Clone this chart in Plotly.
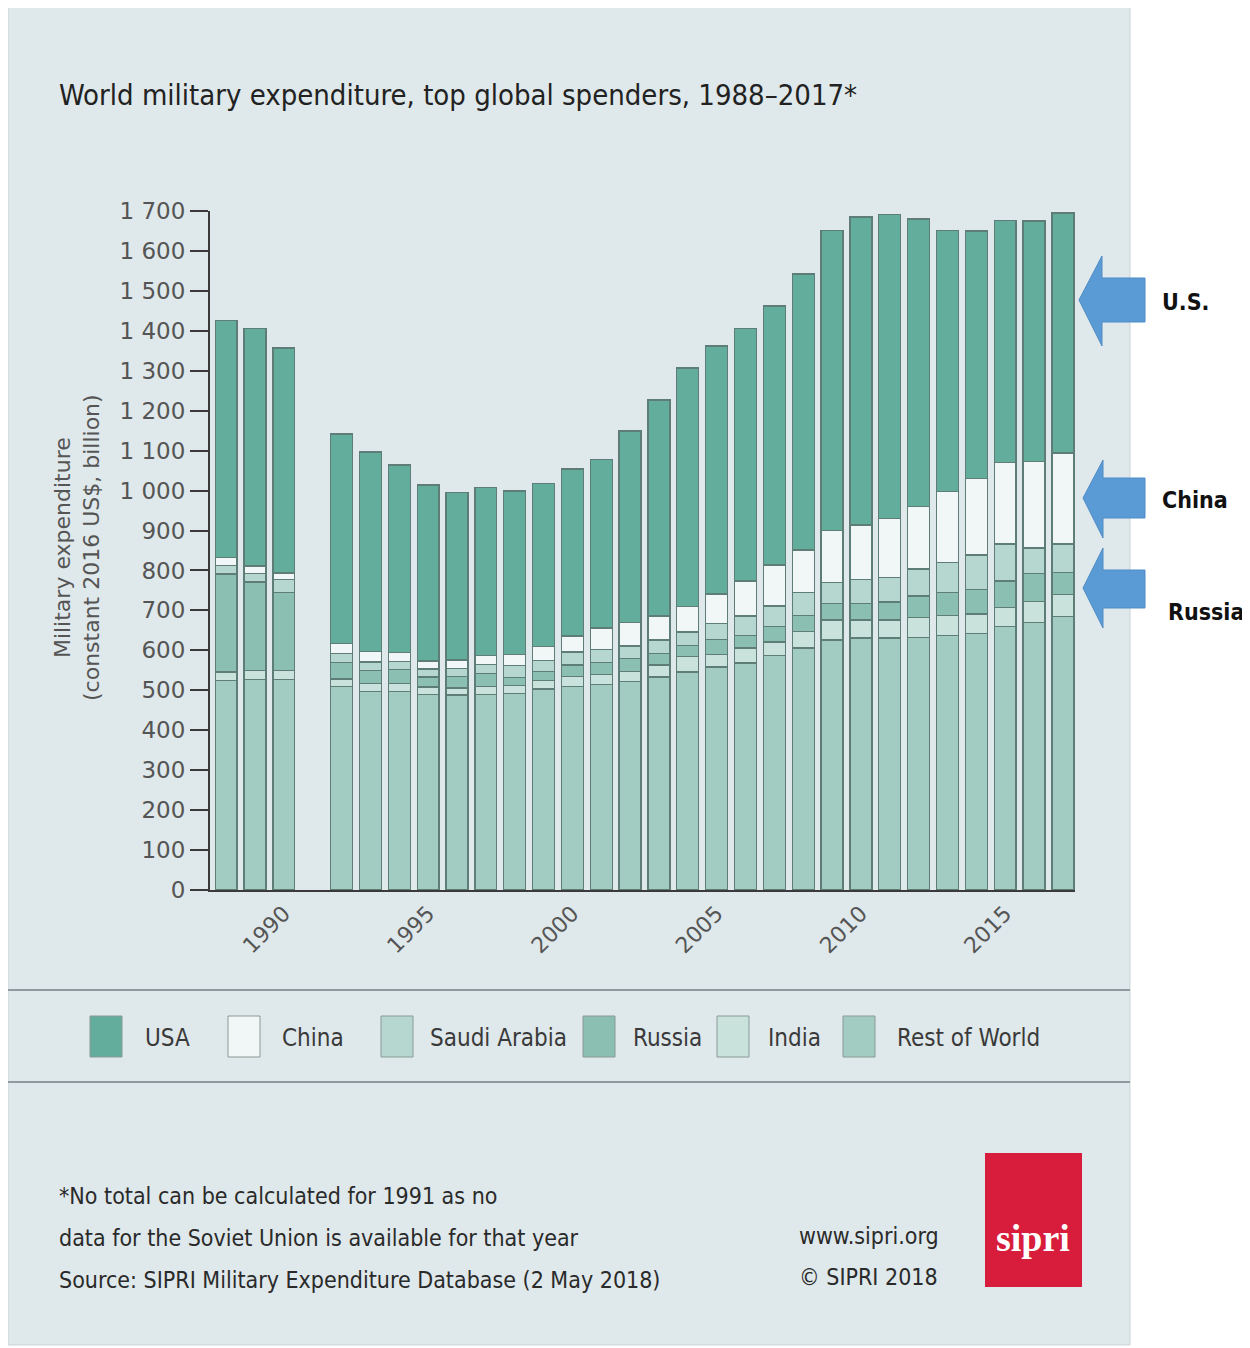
import plotly.graph_objects as go

# ---------------- data (constant 2016 US$, billion) ----------------
years = [1988, 1989, 1990, 1992, 1993, 1994, 1995, 1996, 1997, 1998, 1999,
         2000, 2001, 2002, 2003, 2004, 2005, 2006, 2007, 2008, 2009, 2010,
         2011, 2012, 2013, 2014, 2015, 2016, 2017]
rest_of_world = [524, 527, 527, 510, 497, 497, 490, 488, 490, 492, 503,
                 510, 515, 522, 533, 546, 558, 568, 588, 606, 626, 631,
                 631, 633, 638, 643, 660, 670, 684]
india = [22, 22, 22, 18, 20, 20, 18, 18, 20, 20, 22,
         25, 25, 25, 30, 38, 32, 38, 33, 42, 50, 45,
         45, 50, 50, 48, 47, 53, 56]
russia = [245, 222, 196, 42, 32, 35, 25, 28, 32, 20, 22,
          28, 30, 32, 30, 29, 38, 32, 38, 40, 42, 42,
          45, 53, 57, 62, 67, 70, 55]
saudi_arabia = [22, 22, 32, 22, 22, 20, 20, 20, 23, 30, 28,
                33, 33, 32, 33, 33, 40, 48, 52, 56, 52, 60,
                62, 68, 75, 86, 92, 63, 71]
china = [20, 18, 17, 26, 26, 22, 20, 22, 23, 28, 35,
         40, 53, 58, 60, 63, 73, 88, 103, 107, 130, 136,
         148, 157, 177, 192, 204, 216, 228]
usa = [592, 594, 563, 524, 500, 470, 441, 420, 419, 409, 407,
       418, 421, 480, 541, 598, 621, 631, 648, 691, 752, 771,
       761, 719, 655, 619, 607, 603, 601]

series_names = ["Rest of World", "India", "Russia", "Saudi Arabia", "China", "USA"]
series_values = [rest_of_world, india, russia, saudi_arabia, china, usa]
legend_order = ["USA", "China", "Saudi Arabia", "Russia", "India", "Rest of World"]
x_tick_years = [1990, 1995, 2000, 2005, 2010, 2015]
y_ticks = list(range(0, 1701, 100))

title_text = "World military expenditure, top global spenders, 1988\u20132017*"
y_title = "Military expenditure<br>(constant 2016 US$, billion)"
footer_lines = ["*No total can be calculated for 1991 as no",
                "data for the Soviet Union is available for that year",
                "Source: SIPRI Military Expenditure Database (2 May 2018)"]
credit_lines = ["www.sipri.org", "\u00a9 SIPRI 2018"]
arrow_labels = ["U.S.", "China", "Russia"]

# ---------------- styles ----------------
colors = {
    "USA": "#62ad9b",
    "China": "#f1f7f6",
    "Saudi Arabia": "#b5d7cf",
    "Russia": "#8bbfb2",
    "India": "#c9e2dc",
    "Rest of World": "#a2ccc2",
}
OFF = 8                       # page body margin
PAGE_W, PAGE_H = 1250, 1348
W, H = PAGE_W - OFF, PAGE_H - OFF
PL, PR, PT, PB = 210, 1075, 211, 890   # plot area in page pixels
NARROW = "DejaVu Sans Condensed, Liberation Sans Narrow, sans-serif"
REG = "DejaVu Sans, Verdana, sans-serif"
PANEL = "#dfe8ea"


def px(x):
    return (x - PL) / (PR - PL)


def py(y):
    return (PB - y) / (PB - PT)


fig = go.Figure()
for name, vals in zip(series_names, series_values):
    fig.add_trace(go.Bar(
        x=years, y=vals, name=name,
        marker=dict(color=colors[name], line=dict(color="#5f7d77", width=1.3)),
        width=0.76, showlegend=False,
    ))

shapes = []
annotations = []

# panel background
shapes.append(dict(type="rect", xref="paper", yref="paper", layer="below",
                   x0=px(8), x1=px(1130), y0=py(1345), y1=py(5),
                   fillcolor=PANEL, line=dict(color="#c9d3d6", width=1)))
# divider lines
for yy in (990, 1082):
    shapes.append(dict(type="line", xref="paper", yref="paper",
                       x0=px(8), x1=px(1130), y0=py(yy), y1=py(yy),
                       line=dict(color="#8e9ca0", width=2)))

# title
annotations.append(dict(text=title_text, xref="paper", yref="paper",
                        x=px(57), y=py(95), xanchor="left", yanchor="middle",
                        showarrow=False, font=dict(family=NARROW, size=29, color="#222222")))
# y title
annotations.append(dict(text=y_title, xref="paper", yref="paper",
                        x=px(77), y=py(548), xanchor="center", yanchor="middle",
                        textangle=-90, showarrow=False,
                        font=dict(family=REG, size=22, color="#555555")))

# legend (manual)
legend_sq_x = [90, 228, 381, 583, 717, 843]
legend_tx_x = [143, 280, 428, 631, 766, 895]
for name, sx, tx in zip(legend_order, legend_sq_x, legend_tx_x):
    shapes.append(dict(type="rect", xref="paper", yref="paper",
                       x0=px(sx), x1=px(sx + 32), y0=py(1057), y1=py(1016),
                       fillcolor=colors[name], line=dict(color="#8a9a97", width=1)))
    annotations.append(dict(text=name, xref="paper", yref="paper",
                            x=px(tx), y=py(1038), xanchor="left", yanchor="middle",
                            showarrow=False, font=dict(family=NARROW, size=24, color="#3a3a3a")))

# footer
for i, line in enumerate(footer_lines):
    annotations.append(dict(text=line, xref="paper", yref="paper",
                            x=px(57), y=py(1196 + 42 * i), xanchor="left", yanchor="middle",
                            showarrow=False, font=dict(family=NARROW, size=23, color="#2a2a2a")))
for i, line in enumerate(credit_lines):
    annotations.append(dict(text=line, xref="paper", yref="paper",
                            x=px(797), y=py(1236 + 41 * i), xanchor="left", yanchor="middle",
                            showarrow=False, font=dict(family=NARROW, size=23, color="#2a2a2a")))
# sipri logo
shapes.append(dict(type="rect", xref="paper", yref="paper",
                   x0=px(985), x1=px(1082), y0=py(1287), y1=py(1153),
                   fillcolor="#d81c3c", line=dict(width=0)))
annotations.append(dict(text="<b>sipri</b>", xref="paper", yref="paper",
                        x=px(1033), y=py(1238), xanchor="center", yanchor="middle",
                        showarrow=False,
                        font=dict(family="Liberation Serif, DejaVu Serif, serif", size=38, color="white")))

# arrows pointing at bars
arrow_geo = [  # tip_x, tip_y, head_x, head_top, head_bot, shaft_top, shaft_bot, right
    (1079, 300, 1102, 256, 346, 278, 322, 1145),
    (1083, 498, 1103, 460, 538, 478, 518, 1145),
    (1083, 588, 1103, 548, 628, 570, 608, 1145),
]
label_pos = [(1160, 302), (1160, 500), (1166, 612)]
for (tx, ty, hx, ht, hb, st, sb, rx), lab, (lx, ly) in zip(arrow_geo, arrow_labels, label_pos):
    pts = [(tx, ty), (hx, ht), (hx, st), (rx, st), (rx, sb), (hx, sb), (hx, hb)]
    path = "M " + " L ".join(f"{px(a):.5f},{py(b):.5f}" for a, b in pts) + " Z"
    shapes.append(dict(type="path", xref="paper", yref="paper", path=path,
                       fillcolor="#5b9bd5", line=dict(color="#4f8cc6", width=1)))
    annotations.append(dict(text=f"<b>{lab}</b>", xref="paper", yref="paper",
                            x=px(lx), y=py(ly), xanchor="left", yanchor="middle",
                            showarrow=False,
                            font=dict(family=NARROW, size=23, color="#111111")))

fig.update_layout(
    width=W, height=H,
    margin=dict(l=PL - OFF, r=PAGE_W - PR, t=PT - OFF, b=PAGE_H - PB, pad=0),
    paper_bgcolor="white",
    plot_bgcolor="rgba(0,0,0,0)",
    barmode="stack",
    separators=". ",
    shapes=shapes,
    annotations=annotations,
    showlegend=False,
)
fig.update_xaxes(
    range=[1987.44, 2017.42], tickvals=x_tick_years, tickangle=-45,
    showgrid=False, zeroline=False, showline=True, linecolor="#3a3a3a", linewidth=2,
    ticks="", tickfont=dict(family=REG, size=22, color="#555555"),
)
fig.update_yaxes(
    range=[0, 1700], tickvals=y_ticks, tickformat=",d",
    showgrid=False, zeroline=False, showline=True, linecolor="#3a3a3a", linewidth=2,
    ticks="outside", ticklen=18, tickwidth=2, tickcolor="#3a3a3a",
    tickfont=dict(family=REG, size=23, color="#555555"),
)

fig.write_html("out.html")
